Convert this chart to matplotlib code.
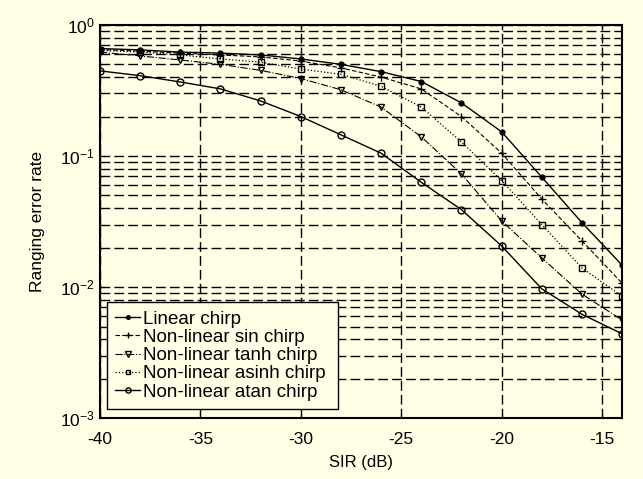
import numpy as np
import matplotlib
matplotlib.use('Agg')
import matplotlib.pyplot as plt
from matplotlib.ticker import LogLocator, NullFormatter, FixedLocator

plt.rcParams['font.family'] = ['Liberation Sans', 'DejaVu Sans']
plt.rcParams['mathtext.default'] = 'regular'
plt.rcParams['axes.unicode_minus'] = False

# data
sir = [-40, -38, -36, -34, -32, -30, -28, -26, -24, -22, -20, -18, -16, -14]
linear = [0.66, 0.645, 0.62, 0.61, 0.59, 0.55, 0.50, 0.44, 0.37, 0.254, 0.153, 0.069, 0.031, 0.0147]
sin_chirp = [0.65, 0.63, 0.61, 0.59, 0.57, 0.53, 0.47, 0.40, 0.325, 0.20, 0.105, 0.047, 0.0225, 0.0107]
tanh_chirp = [0.62, 0.58, 0.54, 0.50, 0.45, 0.39, 0.32, 0.236, 0.14, 0.073, 0.032, 0.0167, 0.00885, 0.0056]
asinh_chirp = [0.64, 0.62, 0.59, 0.55, 0.52, 0.46, 0.42, 0.34, 0.236, 0.128, 0.065, 0.030, 0.014, 0.0085]
atan_chirp = [0.446, 0.41, 0.367, 0.325, 0.263, 0.20, 0.145, 0.105, 0.063, 0.039, 0.0206, 0.0097, 0.0062, 0.0044]

bg = '#FFFFE6'
fig = plt.figure(figsize=(6.43, 4.79), dpi=100, facecolor=bg)
ax = fig.add_axes([0.1555, 0.127, 0.812, 0.821])
ax.set_facecolor(bg)

ax.semilogy(sir, linear, '-', color='k', marker='.', ms=7, lw=1, label='Linear chirp')
ax.semilogy(sir, sin_chirp, '--', color='k', marker='+', ms=6, lw=0.8, dashes=(4, 2), label='Non-linear sin chirp')
ax.semilogy(sir, tanh_chirp, '-.', color='k', marker='v', ms=5, mfc='none', lw=0.8, label='Non-linear tanh chirp')
ax.semilogy(sir, asinh_chirp, ':', color='k', marker='s', ms=4, mfc='none', lw=0.9, label='Non-linear asinh chirp')
ax.semilogy(sir, atan_chirp, '-', color='k', marker='o', ms=5, mfc='none', lw=1, label='Non-linear atan chirp')

ax.set_xlim(-40, -14)
ax.set_ylim(1e-3, 1)
ax.xaxis.set_major_locator(FixedLocator([-40, -35, -30, -25, -20, -15]))
ax.yaxis.set_major_locator(LogLocator(base=10, numticks=10))
ax.yaxis.set_minor_locator(LogLocator(base=10, subs=np.arange(2, 10), numticks=10))
ax.yaxis.set_minor_formatter(NullFormatter())

ax.grid(True, which='major', axis='both', color='k', linestyle=(0, (7, 3)), lw=1)
ax.grid(True, which='minor', axis='y', color='k', linestyle=(0, (7, 3)), lw=1)
ax.tick_params(which='both', direction='in', top=True, right=True, labelsize=12.5)
ax.tick_params(axis='x', pad=10)
for s in ax.spines.values():
    s.set_linewidth(1.5)

ax.set_xlabel('SIR (dB)', fontsize=12, labelpad=6)
ax.set_ylabel('Ranging error rate', fontsize=12.5, labelpad=11)

leg = ax.legend(loc='lower left', bbox_to_anchor=(0.0134, 0.0229, 0.4425, 0.27), mode='expand',
                fontsize=13.5, fancybox=False, edgecolor='k', markerscale=0.75,
                facecolor=bg, framealpha=1, handlelength=1.3, handletextpad=0.15,
                labelspacing=0.06, borderpad=0.45, borderaxespad=0)
leg.get_frame().set_linewidth(1)

fig.savefig('out.png', dpi=100, facecolor=bg)
